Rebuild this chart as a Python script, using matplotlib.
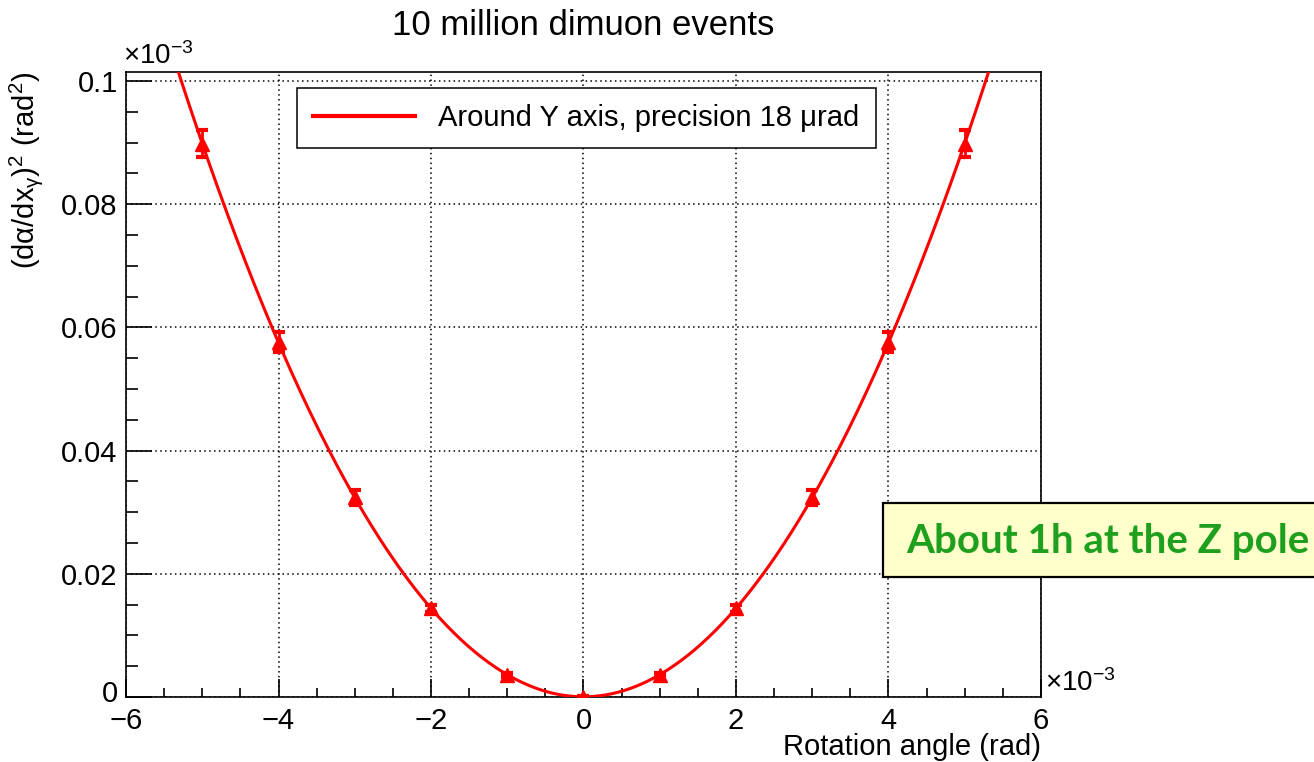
"""
Rotation angle scan: (d alpha / dx_gamma)^2 vs rotation angle, with parabola fit
"""
import numpy as np
import matplotlib

matplotlib.use("Agg")

import matplotlib.pyplot as plt
import matplotlib.transforms as mtransforms
from matplotlib.lines import Line2D
from matplotlib.patches import Rectangle
from matplotlib.ticker import MultipleLocator

plt.rcParams['font.family'] = ['Liberation Sans', 'DejaVu Sans']
plt.rcParams['mathtext.fontset'] = 'custom'
plt.rcParams['mathtext.rm'] = 'Liberation Sans'
plt.rcParams['mathtext.it'] = 'Liberation Sans:italic'

# rotation angle (x 1e-3 rad) and measured values (x 1e-3 rad^2)
angles = [-5, -4, -3, -2, -1, 0, 1, 2, 3, 4, 5]
values = [0.0898, 0.0576, 0.0324, 0.0144, 0.0036, 0.0, 0.0036, 0.0144, 0.0324, 0.0576, 0.0898]
errors = [0.0022, 0.0016, 0.0012, 0.0006, 0.0003, 0.0001, 0.0003, 0.0006, 0.0012, 0.0016, 0.0022]

red = '#ff0000'

fig = plt.figure(figsize=(13.14, 7.62), dpi=100)
ax = fig.add_axes([0.0959, 0.0853, 0.6963, 0.8202])

# parabola fit through the points
coef = np.polyfit(angles, values, 2)
xf = np.linspace(-6, 6, 400)
ax.plot(xf, np.polyval(coef, xf), color=red, lw=2.2, zorder=3)

ax.errorbar(angles, values, yerr=errors, fmt='^', color=red, ms=10,
            capsize=4, capthick=3, elinewidth=2, zorder=4)

ax.set_xlim(-6, 6)
ax.set_ylim(0, 0.10146)
ax.xaxis.set_minor_locator(MultipleLocator(0.5))
ax.yaxis.set_minor_locator(MultipleLocator(0.005))
ax.set_yticks([0, 0.02, 0.04, 0.06, 0.08, 0.1])
ax.set_yticklabels(['0', '0.02', '0.04', '0.06', '0.08', '0.1'])
ax.set_xticks([-6, -4, -2, 0, 2, 4, 6])
ax.set_xticklabels(['\u22126', '\u22124', '\u22122', '0', '2', '4', '6'])

ax.tick_params(axis='both', which='both', direction='in', top=False, right=False,
               labelsize=21, width=1.2)
ax.tick_params(axis='y', which='major', length=19, pad=6)
ax.tick_params(axis='y', which='minor', length=8.5)
ax.tick_params(axis='x', which='major', length=13, pad=7)
ax.tick_params(axis='x', which='minor', length=6.5)
for s in ax.spines.values():
    s.set_linewidth(1.2)

# nudge the y "0" up a little so it does not sit on the x "-6"
zero_lbl = ax.get_yticklabels()[0]
zero_lbl.set_transform(zero_lbl.get_transform() +
                       mtransforms.ScaledTranslation(0, 4 / 72, fig.dpi_scale_trans))

ax.grid(True, which='major', color='black', ls=(0, (1, 2.2)), lw=1.1)
ax.set_axisbelow(True)

ax.set_title('10 million dimuon events', fontsize=25, pad=27)
ax.set_xlabel('Rotation angle (rad)', fontsize=21, loc='right', labelpad=-1)
ax.set_ylabel('(d\u03b1/dx$_{\\mathrm{\u03b3}}$)$^{2}$ (rad$^{2}$)', fontsize=21,
              loc='top', labelpad=12)

# ROOT style exponent labels
ax.text(-0.003, 1.003, r'$\times$10$^{-3}$', transform=ax.transAxes, fontsize=20,
        ha='left', va='bottom')
ax.text(1.004, 0.0, r'$\times$10$^{-3}$', transform=ax.transAxes, fontsize=20,
        ha='left', va='bottom')

handle = Line2D([], [], color=red, lw=3)
leg = ax.legend([handle], ['Around Y axis, precision 18 \u03bcrad'], loc='upper left',
                bbox_to_anchor=(297 / 1314, 1 - 88 / 762), bbox_transform=fig.transFigure,
                fontsize=21, frameon=True, fancybox=False, edgecolor='black',
                framealpha=1, borderpad=0.55, handlelength=3.5, handletextpad=0.8,
                borderaxespad=0)
leg.get_frame().set_linewidth(1.1)

# yellow note box
fig.patches.append(Rectangle((883 / 1314, 1 - 577 / 762), 0.5, 74 / 762,
                             transform=fig.transFigure, facecolor='#ffffcc',
                             edgecolor='black', lw=1.6, zorder=5))
fig.text(906 / 1314, 1 - 542 / 762, 'About 1h at the Z pole', fontsize=29,
         fontweight='bold', family=['Lato', 'DejaVu Sans'], color='#1ea01e',
         ha='left', va='center', zorder=6)

fig.savefig('out.png', dpi=100)
